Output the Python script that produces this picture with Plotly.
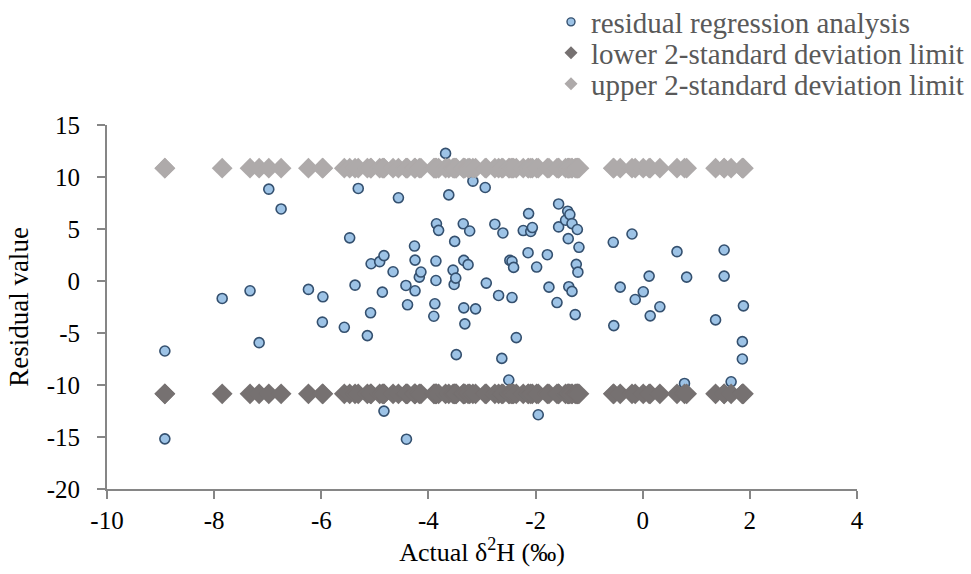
import plotly.graph_objects as go

# Measured delta-2H values and regression residuals
actual_d2h = [
    -8.92, -8.92, -7.85, -7.33, -7.16, -6.98, -6.75, -6.24, -5.97, -5.98,
    -5.57, -5.47, -5.37, -5.31, -5.14, -5.08, -5.07, -4.91, -4.86, -4.83,
    -4.83, -4.66, -4.56, -4.42, -4.41, -4.39, -4.26, -4.25, -4.25, -4.17,
    -4.14, -3.88, -3.90, -3.86, -3.86, -3.85, -3.81, -3.68, -3.62, -3.54,
    -3.52, -3.51, -3.49, -3.48, -3.35, -3.34, -3.34, -3.32, -3.26, -3.23,
    -3.17, -3.12, -2.94, -2.92, -2.76, -2.69, -2.63, -2.61, -2.50, -2.48,
    -2.44, -2.44, -2.41, -2.36, -2.23, -2.14, -2.13, -2.09, -2.06, -1.98,
    -1.95, -1.78, -1.75, -1.60, -1.57, -1.57, -1.44, -1.40, -1.39, -1.38,
    -1.36, -1.32, -1.32, -1.26, -1.24, -1.22, -1.21, -1.19, -0.55, -0.54,
    -0.42, -0.20, -0.14, 0.01, 0.12, 0.14, 0.32, 0.64, 0.78, 0.82,
    1.36, 1.52, 1.52, 1.65, 1.86, 1.86, 1.88,
]
residuals = [
    -6.73, -15.18, -1.68, -0.94, -5.93, 8.83, 6.93, -0.81, -1.52, -3.95,
    -4.45, 4.15, -0.40, 8.90, -5.25, -3.06, 1.66, 1.86, -1.07, 2.44,
    -12.51, 0.89, 8.00, -0.43, -15.21, -2.29, 3.36, 2.01, -0.94, 0.37,
    0.86, -2.19, -3.39, 1.92, 0.05, 5.50, 4.87, 12.27, 8.28, 1.05,
    -0.33, 3.81, 0.28, -7.08, 5.50, 1.98, -2.58, -4.12, 1.57, 4.81,
    9.60, -2.68, 8.99, -0.20, 5.46, -1.39, -7.44, 4.62, -9.52, 1.98,
    1.89, -1.59, 1.31, -5.44, 4.85, 2.72, 6.48, 4.76, 5.14, 1.34,
    -12.86, 2.53, -0.59, -2.07, 7.41, 5.20, 5.84, 6.71, 4.07, -0.55,
    6.39, 5.52, -1.00, -3.23, 1.60, 4.95, 0.85, 3.24, 3.72, -4.29,
    -0.59, 4.52, -1.78, -1.04, 0.47, -3.35, -2.48, 2.82, -9.85, 0.37,
    -3.74, 2.98, 0.47, -9.69, -5.83, -7.50, -2.39,
]

# Two-standard-deviation limits of the residuals
LOWER_LIMIT = -10.85
UPPER_LIMIT = 10.85
lower_limit = [LOWER_LIMIT for _ in actual_d2h]
upper_limit = [UPPER_LIMIT for _ in actual_d2h]

series_names = [
    "residual regression analysis",
    "lower 2-standard deviation limit",
    "upper 2-standard deviation limit",
]

x_ticks = [-10, -8, -6, -4, -2, 0, 2, 4]
x_tick_text = ["-10", "-8", "-6", "-4", "-2", "0", "2", "4"]
y_ticks = [-20, -15, -10, -5, 0, 5, 10, 15]
y_tick_text = ["-20", "-15", "-10", "-5", "0", "5", "10", "15"]

SERIF = "Liberation Serif, Times New Roman, serif"
AXIS_GREY = "#868686"
POINT_FILL = "#9DC3E6"
POINT_EDGE = "#34506F"
LOWER_GREY = "#767171"
UPPER_GREY = "#AEAAAA"

# Plot-area geometry in pixels (used to place the legend rows)
FIG_W, FIG_H = 971, 574
PLOT_L, PLOT_R, PLOT_T, PLOT_B = 107, 857, 125, 489

fig = go.Figure()

fig.add_trace(go.Scatter(
    x=actual_d2h, y=residuals, mode="markers", name=series_names[0],
    showlegend=False,
    marker=dict(symbol="circle", size=10, color=POINT_FILL,
                line=dict(color=POINT_EDGE, width=1.6)),
))
fig.add_trace(go.Scatter(
    x=actual_d2h, y=lower_limit, mode="markers", name=series_names[1],
    showlegend=False,
    marker=dict(symbol="diamond", size=16, color=LOWER_GREY, line=dict(width=0)),
))
fig.add_trace(go.Scatter(
    x=actual_d2h, y=upper_limit, mode="markers", name=series_names[2],
    showlegend=False,
    marker=dict(symbol="diamond", size=16, color=UPPER_GREY, line=dict(width=0)),
))

# Legend entries with compact symbols, one legend per row
legend_markers = [
    dict(symbol="circle", size=8, color=POINT_FILL, line=dict(color=POINT_EDGE, width=1.4)),
    dict(symbol="diamond", size=10, color=LOWER_GREY, line=dict(width=0)),
    dict(symbol="diamond", size=10, color=UPPER_GREY, line=dict(width=0)),
]
legend_ids = ["legend", "legend2", "legend3"]
for name, mk, lid in zip(series_names, legend_markers, legend_ids):
    fig.add_trace(go.Scatter(
        x=[None], y=[None], mode="markers", name=name, marker=mk,
        showlegend=True, legend=lid,
    ))

row_centers = [22, 53, 84]
legend_layout = {}
for lid, yc in zip(legend_ids, row_centers):
    legend_layout[lid] = dict(
        x=(551 - PLOT_L) / (PLOT_R - PLOT_L),
        y=(PLOT_B - yc) / (PLOT_B - PLOT_T),
        xanchor="left", yanchor="middle",
        font=dict(family=SERIF, size=29, color="#595959"),
        bgcolor="rgba(0,0,0,0)", borderwidth=0,
    )

fig.update_layout(
    width=FIG_W, height=FIG_H,
    margin=dict(l=PLOT_L, r=FIG_W - PLOT_R, t=PLOT_T, b=FIG_H - PLOT_B,
                autoexpand=False),
    paper_bgcolor="white", plot_bgcolor="white",
    font=dict(family=SERIF, color="black"),
    **legend_layout,
)

fig.update_xaxes(
    range=[-10, 4], tickvals=x_ticks, ticktext=x_tick_text,
    showgrid=False, zeroline=False,
    showline=True, linecolor=AXIS_GREY, linewidth=2,
    ticks="outside", ticklen=8, tickwidth=2, tickcolor=AXIS_GREY,
    tickfont=dict(family=SERIF, size=25, color="black"),
    title=dict(text="Actual δ<sup>2</sup>H (‰)", standoff=6,
               font=dict(family=SERIF, size=26, color="black")),
)
fig.update_yaxes(
    range=[-20, 15], tickvals=y_ticks, ticktext=y_tick_text,
    showgrid=False, zeroline=False,
    showline=True, linecolor=AXIS_GREY, linewidth=2,
    ticks="outside", ticklen=8, tickwidth=2, tickcolor=AXIS_GREY,
    tickfont=dict(family=SERIF, size=25, color="black"),
    ticklabelstandoff=12,
    title=dict(text="Residual value", standoff=10,
               font=dict(family=SERIF, size=27, color="black")),
)

fig.write_html("out.html")
